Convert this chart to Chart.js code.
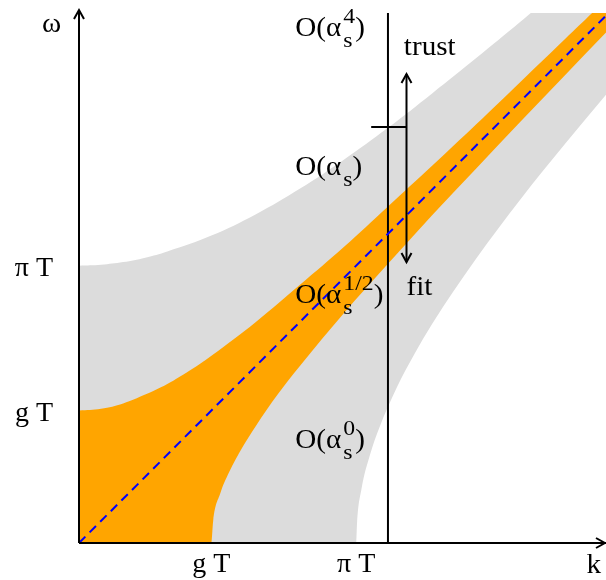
<!DOCTYPE html>
<html>
<head>
<meta charset="UTF-8">
<title>trust / fit</title>
<script src="https://cdn.jsdelivr.net/npm/chart.js"></script>
<style>
html, body { margin: 0; padding: 0; background: #fff; }
#wrap { position: relative; width: 606px; height: 580px; }
</style>
</head>
<body>
<div id="wrap"><canvas id="chart"></canvas></div>
<script>
// k and ω both in units of T
const K_MAX = 5.97, W_MAX = 6;
const xTickValues = [1.5, 3.14];
const xTickLabels = ['g T', 'π T'];
const yTickValues = [1.5, 3.14];
const yTickLabels = ['g T', 'π T'];

// grey band edges
const greyUpperK = [0, 0.25, 0.5, 0.75, 1, 1.5, 2, 2.5, 3, 3.5, 4, 4.5, 5, 5.5, 6];
const greyUpperW = [3.14, 3.15, 3.18, 3.23, 3.30, 3.48, 3.72, 4.01, 4.34, 4.70, 5.09, 5.49, 5.90, 6.33, 6.77];
const greyLowerK = [0, 3.14, 3.15, 3.2, 3.3, 3.4, 3.6, 3.8, 4, 4.5, 5, 5.5, 6];
const greyLowerW = [0, 0, 0.23, 0.61, 1.01, 1.30, 1.76, 2.14, 2.48, 3.22, 3.89, 4.51, 5.11];
// orange band edges
const orangeUpperK = [0, 0.25, 0.5, 0.75, 1, 1.25, 1.5, 2, 2.5, 3, 3.5, 4, 4.5, 5, 5.5, 6];
const orangeUpperW = [1.5, 1.52, 1.58, 1.68, 1.80, 1.95, 2.12, 2.5, 2.92, 3.35, 3.81, 4.27, 4.74, 5.22, 5.70, 6.18];
const orangeLowerK = [0, 1.5, 1.52, 1.6, 1.7, 1.85, 2, 2.25, 2.5, 3, 3.5, 4, 4.5, 5, 5.5, 6];
const orangeLowerW = [0, 0, 0.25, 0.56, 0.80, 1.08, 1.32, 1.68, 2.0, 2.60, 3.16, 3.71, 4.24, 4.77, 5.29, 5.81];
// light cone ω = k
const diagK = [0, 6];
const diagW = [0, 6];
// cut at k and trust/fit marker
const cutK = [3.5, 3.5];
const cutW = [0, 6];
const markK = [3.31, 3.71];
const markW = [4.71, 4.71];
const arrowK = 3.71;
const arrowW = [5.31, 3.18];

const pts = (ks, ws) => ks.map((k, i) => ({ x: k, y: ws[i] }));
const SERIF = "'Liberation Serif', 'Times New Roman', serif";
const SX = 1.08; // the original lettering is a little wide

// order labels, left edge + baseline in data units
const notes = [
  { k: 2.45, w: 5.74, sup: '4' },
  { k: 2.45, w: 4.17, sup: '' },
  { k: 2.45, w: 2.72, sup: '1/2' },
  { k: 2.45, w: 1.08, sup: '0' }
];
const words = [
  { text: 'ω', k: -0.42, w: 5.79 },
  { text: 'k', k: 5.75, w: -0.34 },
  { text: 'trust', k: 3.68, w: 5.52 },
  { text: 'fit', k: 3.71, w: 2.81 }
];

function head(ctx, x, y, dx, dy) {
  const L = 9, W = 5;
  ctx.beginPath();
  ctx.moveTo(x - dx * L - dy * W, y - dy * L + dx * W);
  ctx.lineTo(x, y);
  ctx.lineTo(x - dx * L + dy * W, y - dy * L - dx * W);
  ctx.stroke();
}

function txt(ctx, s, x, y, size) {
  ctx.font = size + 'px ' + SERIF;
  ctx.save();
  ctx.translate(x, y);
  ctx.scale(SX, 1);
  ctx.fillText(s, 0, 0);
  ctx.restore();
  return ctx.measureText(s).width * SX;
}

const overlay = {
  id: 'overlay',
  afterDraw(chart) {
    const { ctx, scales: { x, y } } = chart;
    const px = k => x.getPixelForValue(k), py = w => y.getPixelForValue(w);
    ctx.save();
    ctx.strokeStyle = '#000'; ctx.fillStyle = '#000'; ctx.lineWidth = 2;

    // axes with arrows
    const x0 = px(0), y0 = py(0);
    ctx.beginPath(); ctx.moveTo(x0, y0); ctx.lineTo(x0, 10); ctx.stroke();
    head(ctx, x0, 10, 0, -1);
    ctx.beginPath(); ctx.moveTo(x0, y0); ctx.lineTo(chart.width, y0); ctx.stroke();
    head(ctx, chart.width - 1, y0, 1, 0);

    // trust / fit double arrow
    const ax = px(arrowK), ay1 = py(arrowW[0]), ay2 = py(arrowW[1]);
    ctx.beginPath(); ctx.moveTo(ax, ay1); ctx.lineTo(ax, ay2); ctx.stroke();
    head(ctx, ax, ay1, 0, -1);
    head(ctx, ax, ay2, 0, 1);

    ctx.textBaseline = 'alphabetic';
    ctx.textAlign = 'left';
    words.forEach(t => txt(ctx, t.text, px(t.k), py(t.w), 27));

    notes.forEach(n => {
      let cx = px(n.k); const by = py(n.w);
      cx += txt(ctx, 'O(α', cx, by, 27) + 2;
      let w = txt(ctx, 's', cx, by + 11, 22);
      if (n.sup) w = Math.max(w, txt(ctx, n.sup, cx, by - 13, 22));
      txt(ctx, ')', cx + w, by, 27);
    });
    ctx.restore();
  }
};

const noPad = s => { s.paddingTop = 0; s.paddingBottom = 0; s.paddingLeft = 0; s.paddingRight = 0; };

new Chart(document.getElementById('chart'), {
  type: 'line',
  data: {
    datasets: [
      { data: pts(diagK, diagW), borderColor: '#0000ff', borderWidth: 2, borderDash: [9, 6], fill: false },
      { data: pts(cutK, cutW), borderColor: '#000', borderWidth: 2, fill: false },
      { data: pts(markK, markW), borderColor: '#000', borderWidth: 2, fill: false },
      { data: pts(orangeUpperK, orangeUpperW), borderWidth: 0, backgroundColor: '#ffa500', fill: '+1', tension: 0.4 },
      { data: pts(orangeLowerK, orangeLowerW), borderWidth: 0, fill: false, cubicInterpolationMode: 'monotone' },
      { data: pts(greyUpperK, greyUpperW), borderWidth: 0, backgroundColor: '#dcdcdc', fill: '+1', tension: 0.4 },
      { data: pts(greyLowerK, greyLowerW), borderWidth: 0, fill: false, cubicInterpolationMode: 'monotone' }
    ]
  },
  options: {
    responsive: true,
    maintainAspectRatio: false,
    animation: false,
    layout: { padding: { top: 13, right: 0, left: 0, bottom: 0 } },
    elements: { point: { radius: 0 } },
    plugins: { legend: { display: false }, tooltip: { enabled: false } },
    scales: {
      x: {
        type: 'linear', min: 0, max: K_MAX,
        grid: { display: false, drawTicks: false }, border: { display: false },
        afterBuildTicks: s => { s.ticks = xTickValues.map(v => ({ value: v })); },
        afterFit: s => { s.height = 37; noPad(s); },
        ticks: { callback: (v, i) => xTickLabels[i], color: '#000', font: { family: SERIF, size: 28 }, padding: 5, maxRotation: 0, autoSkip: false }
      },
      y: {
        type: 'linear', min: 0, max: W_MAX,
        grid: { display: false, drawTicks: false }, border: { display: false },
        afterBuildTicks: s => { s.ticks = yTickValues.map(v => ({ value: v })); },
        afterFit: s => { s.width = 79; noPad(s); },
        ticks: { callback: (v, i) => yTickLabels[i], color: '#000', font: { family: SERIF, size: 28 }, padding: 26, labelOffset: 3, autoSkip: false }
      }
    }
  },
  plugins: [overlay]
});
</script>
</body>
</html>
